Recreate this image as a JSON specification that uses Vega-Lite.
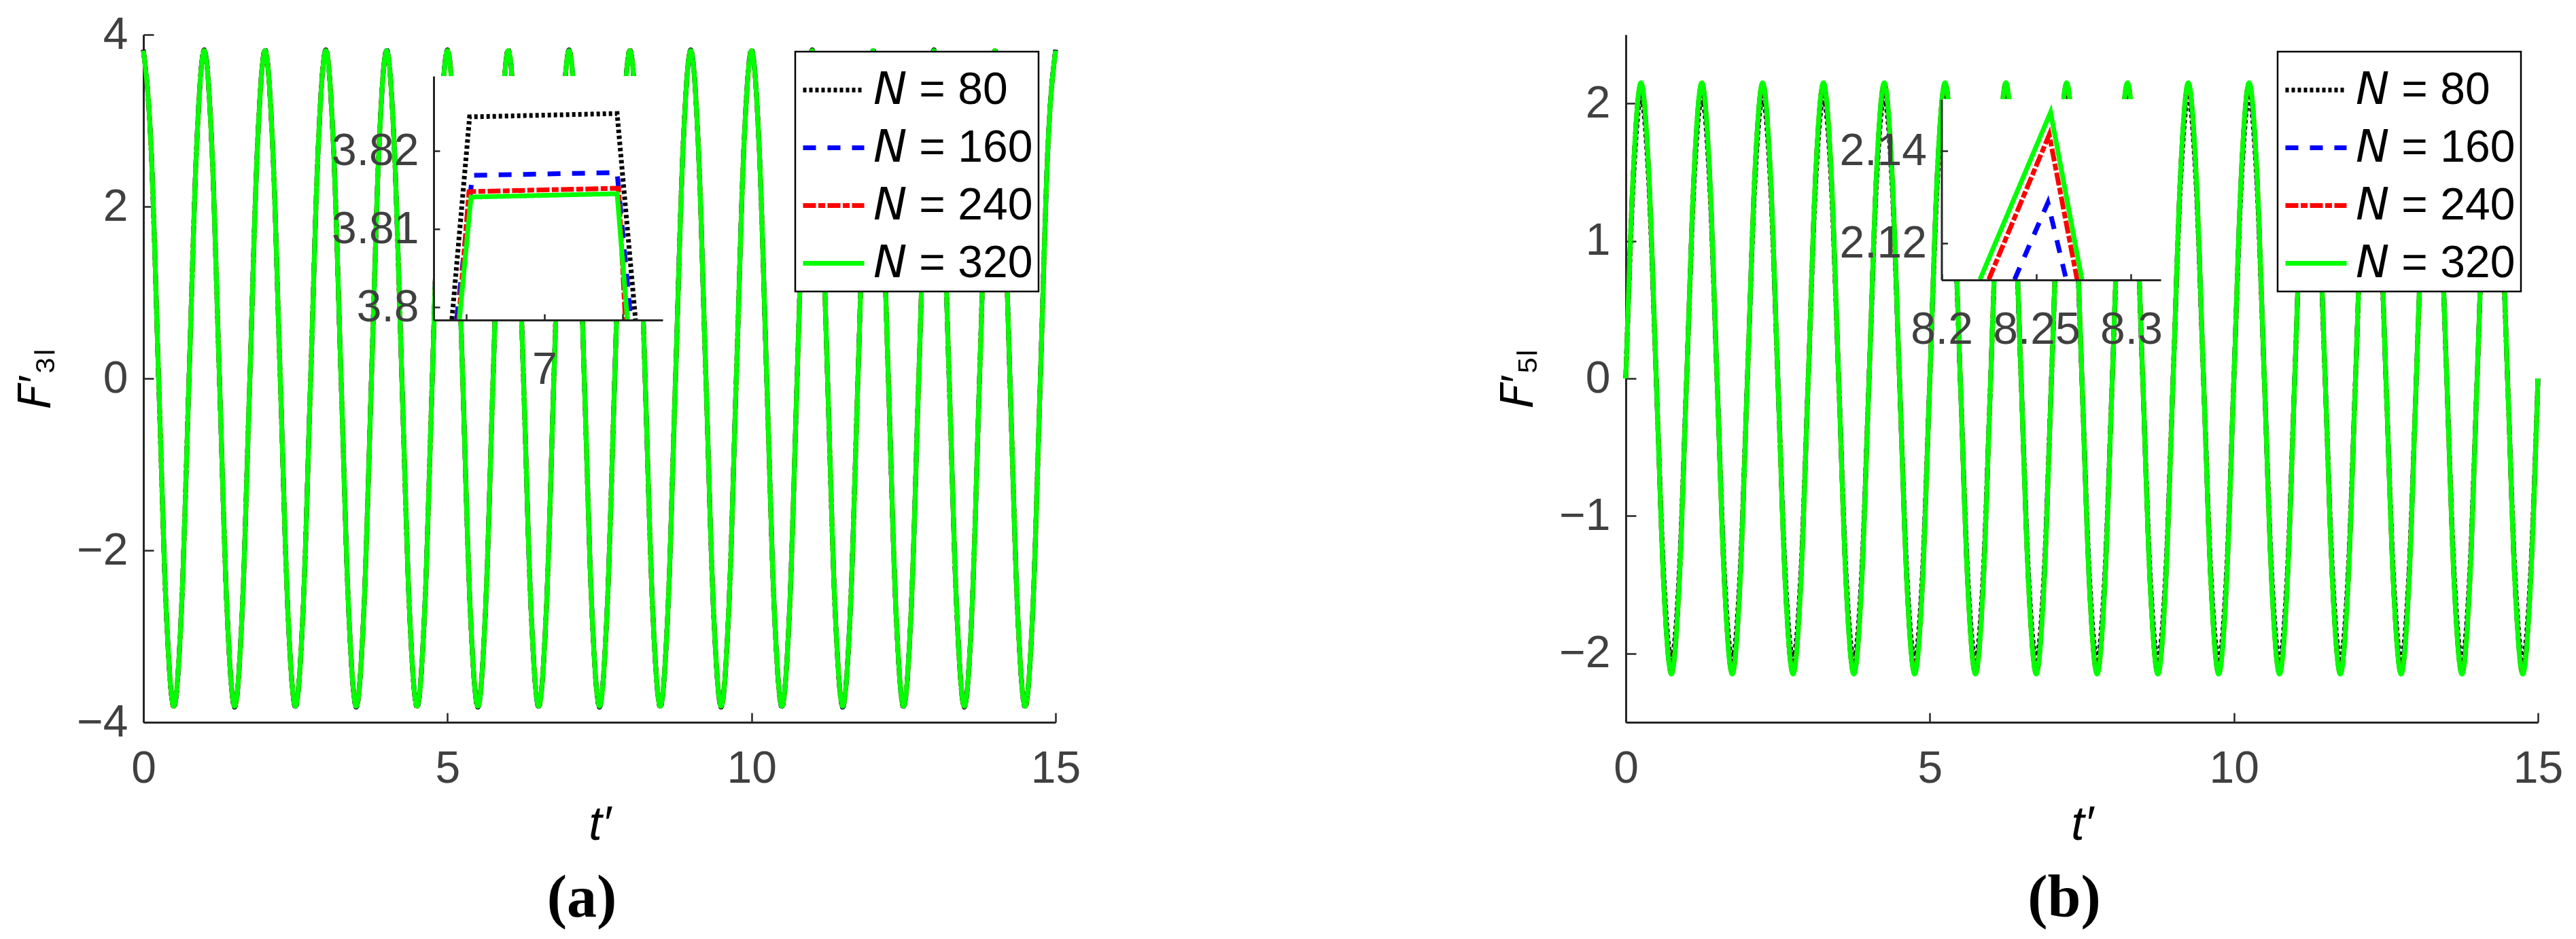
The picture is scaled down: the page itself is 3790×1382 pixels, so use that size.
{
  "$schema": "https://vega.github.io/schema/vega-lite/v6.json",
  "background": "white",
  "padding": {"left": 20, "top": 18, "right": 5, "bottom": 5},
  "config": {
    "font": "Liberation Sans",
    "view": {"stroke": null},
    "axis": {
      "labelFont": "Liberation Sans", "labelFontSize": 66, "labelColor": "#404040",
      "domainColor": "#262626", "domainWidth": 3, "tickColor": "#262626", "tickWidth": 2.5,
      "grid": false, "titleFont": "Liberation Sans", "titleFontSize": 66, "titleColor": "#000000",
      "titleFontWeight": "normal", "labelFlush": false, "labelOverlap": false
    },
    "legend": {
      "orient": "top-right", "offset": 25, "padding": 8, "strokeColor": "#000000", "strokeWidth": 2.5,
      "fillColor": "#ffffff", "symbolType": "stroke", "symbolSize": 8100, "symbolStrokeWidth": 7,
      "labelFontSize": 66, "labelFont": "Liberation Sans", "labelColor": "#000000", "labelOffset": 10,
      "rowPadding": 3, "labelLimit": 600, "zindex": 1
    },
    "line": {"strokeCap": "butt"}
  },
  "datasets": {
    "mainA": [
      {"t":0,"80":3.825,"160":3.817,"240":3.815,"320":3.814},{"t":0.125,"80":2.705,"160":2.699,"240":2.698,"320":2.697},{"t":0.25,"80":0,"160":0,"240":0,"320":0},{"t":0.375,"80":-2.705,"160":-2.699,"240":-2.698,"320":-2.697},{"t":0.5,"80":-3.825,"160":-3.817,"240":-3.815,"320":-3.814},{"t":0.625,"80":-2.705,"160":-2.699,"240":-2.698,"320":-2.697},{"t":0.75,"80":0,"160":0,"240":0,"320":0},{"t":0.875,"80":2.705,"160":2.699,"240":2.698,"320":2.697},
      {"t":1,"80":3.825,"160":3.817,"240":3.815,"320":3.814},{"t":1.125,"80":2.705,"160":2.699,"240":2.698,"320":2.697},{"t":1.25,"80":0,"160":0,"240":0,"320":0},{"t":1.375,"80":-2.705,"160":-2.699,"240":-2.698,"320":-2.697},{"t":1.5,"80":-3.825,"160":-3.817,"240":-3.815,"320":-3.814},{"t":1.625,"80":-2.705,"160":-2.699,"240":-2.698,"320":-2.697},{"t":1.75,"80":0,"160":0,"240":0,"320":0},{"t":1.875,"80":2.705,"160":2.699,"240":2.698,"320":2.697},
      {"t":2,"80":3.825,"160":3.817,"240":3.815,"320":3.814},{"t":2.125,"80":2.705,"160":2.699,"240":2.698,"320":2.697},{"t":2.25,"80":0,"160":0,"240":0,"320":0},{"t":2.375,"80":-2.705,"160":-2.699,"240":-2.698,"320":-2.697},{"t":2.5,"80":-3.825,"160":-3.817,"240":-3.815,"320":-3.814},{"t":2.625,"80":-2.705,"160":-2.699,"240":-2.698,"320":-2.697},{"t":2.75,"80":0,"160":0,"240":0,"320":0},{"t":2.875,"80":2.705,"160":2.699,"240":2.698,"320":2.697},
      {"t":3,"80":3.825,"160":3.817,"240":3.815,"320":3.814},{"t":3.125,"80":2.705,"160":2.699,"240":2.698,"320":2.697},{"t":3.25,"80":0,"160":0,"240":0,"320":0},{"t":3.375,"80":-2.705,"160":-2.699,"240":-2.698,"320":-2.697},{"t":3.5,"80":-3.825,"160":-3.817,"240":-3.815,"320":-3.814},{"t":3.625,"80":-2.705,"160":-2.699,"240":-2.698,"320":-2.697},{"t":3.75,"80":0,"160":0,"240":0,"320":0},{"t":3.875,"80":2.705,"160":2.699,"240":2.698,"320":2.697},
      {"t":4,"80":3.825,"160":3.817,"240":3.815,"320":3.814},{"t":4.125,"80":2.705,"160":2.699,"240":2.698,"320":2.697},{"t":4.25,"80":0,"160":0,"240":0,"320":0},{"t":4.375,"80":-2.705,"160":-2.699,"240":-2.698,"320":-2.697},{"t":4.5,"80":-3.825,"160":-3.817,"240":-3.815,"320":-3.814},{"t":4.625,"80":-2.705,"160":-2.699,"240":-2.698,"320":-2.697},{"t":4.75,"80":0,"160":0,"240":0,"320":0},{"t":4.875,"80":2.705,"160":2.699,"240":2.698,"320":2.697},
      {"t":5,"80":3.825,"160":3.817,"240":3.815,"320":3.814},{"t":5.125,"80":2.705,"160":2.699,"240":2.698,"320":2.697},{"t":5.25,"80":0,"160":0,"240":0,"320":0},{"t":5.375,"80":-2.705,"160":-2.699,"240":-2.698,"320":-2.697},{"t":5.5,"80":-3.825,"160":-3.817,"240":-3.815,"320":-3.814},{"t":5.625,"80":-2.705,"160":-2.699,"240":-2.698,"320":-2.697},{"t":5.75,"80":0,"160":0,"240":0,"320":0},{"t":5.875,"80":2.705,"160":2.699,"240":2.698,"320":2.697},
      {"t":6,"80":3.825,"160":3.817,"240":3.815,"320":3.814},{"t":6.125,"80":2.705,"160":2.699,"240":2.698,"320":2.697},{"t":6.25,"80":0,"160":0,"240":0,"320":0},{"t":6.375,"80":-2.705,"160":-2.699,"240":-2.698,"320":-2.697},{"t":6.5,"80":-3.825,"160":-3.817,"240":-3.815,"320":-3.814},{"t":6.625,"80":-2.705,"160":-2.699,"240":-2.698,"320":-2.697},{"t":6.75,"80":0,"160":0,"240":0,"320":0},{"t":6.875,"80":2.705,"160":2.699,"240":2.698,"320":2.697},
      {"t":7,"80":3.825,"160":3.817,"240":3.815,"320":3.814},{"t":7.125,"80":2.705,"160":2.699,"240":2.698,"320":2.697},{"t":7.25,"80":0,"160":0,"240":0,"320":0},{"t":7.375,"80":-2.705,"160":-2.699,"240":-2.698,"320":-2.697},{"t":7.5,"80":-3.825,"160":-3.817,"240":-3.815,"320":-3.814},{"t":7.625,"80":-2.705,"160":-2.699,"240":-2.698,"320":-2.697},{"t":7.75,"80":0,"160":0,"240":0,"320":0},{"t":7.875,"80":2.705,"160":2.699,"240":2.698,"320":2.697},
      {"t":8,"80":3.825,"160":3.817,"240":3.815,"320":3.814},{"t":8.125,"80":2.705,"160":2.699,"240":2.698,"320":2.697},{"t":8.25,"80":0,"160":0,"240":0,"320":0},{"t":8.375,"80":-2.705,"160":-2.699,"240":-2.698,"320":-2.697},{"t":8.5,"80":-3.825,"160":-3.817,"240":-3.815,"320":-3.814},{"t":8.625,"80":-2.705,"160":-2.699,"240":-2.698,"320":-2.697},{"t":8.75,"80":0,"160":0,"240":0,"320":0},{"t":8.875,"80":2.705,"160":2.699,"240":2.698,"320":2.697},
      {"t":9,"80":3.825,"160":3.817,"240":3.815,"320":3.814},{"t":9.125,"80":2.705,"160":2.699,"240":2.698,"320":2.697},{"t":9.25,"80":0,"160":0,"240":0,"320":0},{"t":9.375,"80":-2.705,"160":-2.699,"240":-2.698,"320":-2.697},{"t":9.5,"80":-3.825,"160":-3.817,"240":-3.815,"320":-3.814},{"t":9.625,"80":-2.705,"160":-2.699,"240":-2.698,"320":-2.697},{"t":9.75,"80":0,"160":0,"240":0,"320":0},{"t":9.875,"80":2.705,"160":2.699,"240":2.698,"320":2.697},
      {"t":10,"80":3.825,"160":3.817,"240":3.815,"320":3.814},{"t":10.125,"80":2.705,"160":2.699,"240":2.698,"320":2.697},{"t":10.25,"80":0,"160":0,"240":0,"320":0},{"t":10.375,"80":-2.705,"160":-2.699,"240":-2.698,"320":-2.697},{"t":10.5,"80":-3.825,"160":-3.817,"240":-3.815,"320":-3.814},{"t":10.625,"80":-2.705,"160":-2.699,"240":-2.698,"320":-2.697},{"t":10.75,"80":0,"160":0,"240":0,"320":0},{"t":10.875,"80":2.705,"160":2.699,"240":2.698,"320":2.697},
      {"t":11,"80":3.825,"160":3.817,"240":3.815,"320":3.814},{"t":11.125,"80":2.705,"160":2.699,"240":2.698,"320":2.697},{"t":11.25,"80":0,"160":0,"240":0,"320":0},{"t":11.375,"80":-2.705,"160":-2.699,"240":-2.698,"320":-2.697},{"t":11.5,"80":-3.825,"160":-3.817,"240":-3.815,"320":-3.814},{"t":11.625,"80":-2.705,"160":-2.699,"240":-2.698,"320":-2.697},{"t":11.75,"80":0,"160":0,"240":0,"320":0},{"t":11.875,"80":2.705,"160":2.699,"240":2.698,"320":2.697},
      {"t":12,"80":3.825,"160":3.817,"240":3.815,"320":3.814},{"t":12.125,"80":2.705,"160":2.699,"240":2.698,"320":2.697},{"t":12.25,"80":0,"160":0,"240":0,"320":0},{"t":12.375,"80":-2.705,"160":-2.699,"240":-2.698,"320":-2.697},{"t":12.5,"80":-3.825,"160":-3.817,"240":-3.815,"320":-3.814},{"t":12.625,"80":-2.705,"160":-2.699,"240":-2.698,"320":-2.697},{"t":12.75,"80":0,"160":0,"240":0,"320":0},{"t":12.875,"80":2.705,"160":2.699,"240":2.698,"320":2.697},
      {"t":13,"80":3.825,"160":3.817,"240":3.815,"320":3.814},{"t":13.125,"80":2.705,"160":2.699,"240":2.698,"320":2.697},{"t":13.25,"80":0,"160":0,"240":0,"320":0},{"t":13.375,"80":-2.705,"160":-2.699,"240":-2.698,"320":-2.697},{"t":13.5,"80":-3.825,"160":-3.817,"240":-3.815,"320":-3.814},{"t":13.625,"80":-2.705,"160":-2.699,"240":-2.698,"320":-2.697},{"t":13.75,"80":0,"160":0,"240":0,"320":0},{"t":13.875,"80":2.705,"160":2.699,"240":2.698,"320":2.697},
      {"t":14,"80":3.825,"160":3.817,"240":3.815,"320":3.814},{"t":14.125,"80":2.705,"160":2.699,"240":2.698,"320":2.697},{"t":14.25,"80":0,"160":0,"240":0,"320":0},{"t":14.375,"80":-2.705,"160":-2.699,"240":-2.698,"320":-2.697},{"t":14.5,"80":-3.825,"160":-3.817,"240":-3.815,"320":-3.814},{"t":14.625,"80":-2.705,"160":-2.699,"240":-2.698,"320":-2.697},{"t":14.75,"80":0,"160":0,"240":0,"320":0},{"t":14.875,"80":2.705,"160":2.699,"240":2.698,"320":2.697},
      {"t":15,"80":3.825,"160":3.817,"240":3.815,"320":3.814}
    ],
    "mainB": [
      {"t":0,"80":0,"160":0,"240":0,"320":0},{"t":0.125,"80":1.443,"160":1.506,"240":1.517,"320":1.52},{"t":0.25,"80":2.04,"160":2.13,"240":2.145,"320":2.15},{"t":0.375,"80":1.443,"160":1.506,"240":1.517,"320":1.52},{"t":0.5,"80":0,"160":0,"240":0,"320":0},{"t":0.625,"80":-1.443,"160":-1.506,"240":-1.517,"320":-1.52},{"t":0.75,"80":-2.04,"160":-2.13,"240":-2.145,"320":-2.15},{"t":0.875,"80":-1.443,"160":-1.506,"240":-1.517,"320":-1.52},
      {"t":1,"80":0,"160":0,"240":0,"320":0},{"t":1.125,"80":1.443,"160":1.506,"240":1.517,"320":1.52},{"t":1.25,"80":2.04,"160":2.13,"240":2.145,"320":2.15},{"t":1.375,"80":1.443,"160":1.506,"240":1.517,"320":1.52},{"t":1.5,"80":0,"160":0,"240":0,"320":0},{"t":1.625,"80":-1.443,"160":-1.506,"240":-1.517,"320":-1.52},{"t":1.75,"80":-2.04,"160":-2.13,"240":-2.145,"320":-2.15},{"t":1.875,"80":-1.443,"160":-1.506,"240":-1.517,"320":-1.52},
      {"t":2,"80":0,"160":0,"240":0,"320":0},{"t":2.125,"80":1.443,"160":1.506,"240":1.517,"320":1.52},{"t":2.25,"80":2.04,"160":2.13,"240":2.145,"320":2.15},{"t":2.375,"80":1.443,"160":1.506,"240":1.517,"320":1.52},{"t":2.5,"80":0,"160":0,"240":0,"320":0},{"t":2.625,"80":-1.443,"160":-1.506,"240":-1.517,"320":-1.52},{"t":2.75,"80":-2.04,"160":-2.13,"240":-2.145,"320":-2.15},{"t":2.875,"80":-1.443,"160":-1.506,"240":-1.517,"320":-1.52},
      {"t":3,"80":0,"160":0,"240":0,"320":0},{"t":3.125,"80":1.443,"160":1.506,"240":1.517,"320":1.52},{"t":3.25,"80":2.04,"160":2.13,"240":2.145,"320":2.15},{"t":3.375,"80":1.443,"160":1.506,"240":1.517,"320":1.52},{"t":3.5,"80":0,"160":0,"240":0,"320":0},{"t":3.625,"80":-1.443,"160":-1.506,"240":-1.517,"320":-1.52},{"t":3.75,"80":-2.04,"160":-2.13,"240":-2.145,"320":-2.15},{"t":3.875,"80":-1.443,"160":-1.506,"240":-1.517,"320":-1.52},
      {"t":4,"80":0,"160":0,"240":0,"320":0},{"t":4.125,"80":1.443,"160":1.506,"240":1.517,"320":1.52},{"t":4.25,"80":2.04,"160":2.13,"240":2.145,"320":2.15},{"t":4.375,"80":1.443,"160":1.506,"240":1.517,"320":1.52},{"t":4.5,"80":0,"160":0,"240":0,"320":0},{"t":4.625,"80":-1.443,"160":-1.506,"240":-1.517,"320":-1.52},{"t":4.75,"80":-2.04,"160":-2.13,"240":-2.145,"320":-2.15},{"t":4.875,"80":-1.443,"160":-1.506,"240":-1.517,"320":-1.52},
      {"t":5,"80":0,"160":0,"240":0,"320":0},{"t":5.125,"80":1.443,"160":1.506,"240":1.517,"320":1.52},{"t":5.25,"80":2.04,"160":2.13,"240":2.145,"320":2.15},{"t":5.375,"80":1.443,"160":1.506,"240":1.517,"320":1.52},{"t":5.5,"80":0,"160":0,"240":0,"320":0},{"t":5.625,"80":-1.443,"160":-1.506,"240":-1.517,"320":-1.52},{"t":5.75,"80":-2.04,"160":-2.13,"240":-2.145,"320":-2.15},{"t":5.875,"80":-1.443,"160":-1.506,"240":-1.517,"320":-1.52},
      {"t":6,"80":0,"160":0,"240":0,"320":0},{"t":6.125,"80":1.443,"160":1.506,"240":1.517,"320":1.52},{"t":6.25,"80":2.04,"160":2.13,"240":2.145,"320":2.15},{"t":6.375,"80":1.443,"160":1.506,"240":1.517,"320":1.52},{"t":6.5,"80":0,"160":0,"240":0,"320":0},{"t":6.625,"80":-1.443,"160":-1.506,"240":-1.517,"320":-1.52},{"t":6.75,"80":-2.04,"160":-2.13,"240":-2.145,"320":-2.15},{"t":6.875,"80":-1.443,"160":-1.506,"240":-1.517,"320":-1.52},
      {"t":7,"80":0,"160":0,"240":0,"320":0},{"t":7.125,"80":1.443,"160":1.506,"240":1.517,"320":1.52},{"t":7.25,"80":2.04,"160":2.13,"240":2.145,"320":2.15},{"t":7.375,"80":1.443,"160":1.506,"240":1.517,"320":1.52},{"t":7.5,"80":0,"160":0,"240":0,"320":0},{"t":7.625,"80":-1.443,"160":-1.506,"240":-1.517,"320":-1.52},{"t":7.75,"80":-2.04,"160":-2.13,"240":-2.145,"320":-2.15},{"t":7.875,"80":-1.443,"160":-1.506,"240":-1.517,"320":-1.52},
      {"t":8,"80":0,"160":0,"240":0,"320":0},{"t":8.125,"80":1.443,"160":1.506,"240":1.517,"320":1.52},{"t":8.25,"80":2.04,"160":2.13,"240":2.145,"320":2.15},{"t":8.375,"80":1.443,"160":1.506,"240":1.517,"320":1.52},{"t":8.5,"80":0,"160":0,"240":0,"320":0},{"t":8.625,"80":-1.443,"160":-1.506,"240":-1.517,"320":-1.52},{"t":8.75,"80":-2.04,"160":-2.13,"240":-2.145,"320":-2.15},{"t":8.875,"80":-1.443,"160":-1.506,"240":-1.517,"320":-1.52},
      {"t":9,"80":0,"160":0,"240":0,"320":0},{"t":9.125,"80":1.443,"160":1.506,"240":1.517,"320":1.52},{"t":9.25,"80":2.04,"160":2.13,"240":2.145,"320":2.15},{"t":9.375,"80":1.443,"160":1.506,"240":1.517,"320":1.52},{"t":9.5,"80":0,"160":0,"240":0,"320":0},{"t":9.625,"80":-1.443,"160":-1.506,"240":-1.517,"320":-1.52},{"t":9.75,"80":-2.04,"160":-2.13,"240":-2.145,"320":-2.15},{"t":9.875,"80":-1.443,"160":-1.506,"240":-1.517,"320":-1.52},
      {"t":10,"80":0,"160":0,"240":0,"320":0},{"t":10.125,"80":1.443,"160":1.506,"240":1.517,"320":1.52},{"t":10.25,"80":2.04,"160":2.13,"240":2.145,"320":2.15},{"t":10.375,"80":1.443,"160":1.506,"240":1.517,"320":1.52},{"t":10.5,"80":0,"160":0,"240":0,"320":0},{"t":10.625,"80":-1.443,"160":-1.506,"240":-1.517,"320":-1.52},{"t":10.75,"80":-2.04,"160":-2.13,"240":-2.145,"320":-2.15},{"t":10.875,"80":-1.443,"160":-1.506,"240":-1.517,"320":-1.52},
      {"t":11,"80":0,"160":0,"240":0,"320":0},{"t":11.125,"80":1.443,"160":1.506,"240":1.517,"320":1.52},{"t":11.25,"80":2.04,"160":2.13,"240":2.145,"320":2.15},{"t":11.375,"80":1.443,"160":1.506,"240":1.517,"320":1.52},{"t":11.5,"80":0,"160":0,"240":0,"320":0},{"t":11.625,"80":-1.443,"160":-1.506,"240":-1.517,"320":-1.52},{"t":11.75,"80":-2.04,"160":-2.13,"240":-2.145,"320":-2.15},{"t":11.875,"80":-1.443,"160":-1.506,"240":-1.517,"320":-1.52},
      {"t":12,"80":0,"160":0,"240":0,"320":0},{"t":12.125,"80":1.443,"160":1.506,"240":1.517,"320":1.52},{"t":12.25,"80":2.04,"160":2.13,"240":2.145,"320":2.15},{"t":12.375,"80":1.443,"160":1.506,"240":1.517,"320":1.52},{"t":12.5,"80":0,"160":0,"240":0,"320":0},{"t":12.625,"80":-1.443,"160":-1.506,"240":-1.517,"320":-1.52},{"t":12.75,"80":-2.04,"160":-2.13,"240":-2.145,"320":-2.15},{"t":12.875,"80":-1.443,"160":-1.506,"240":-1.517,"320":-1.52},
      {"t":13,"80":0,"160":0,"240":0,"320":0},{"t":13.125,"80":1.443,"160":1.506,"240":1.517,"320":1.52},{"t":13.25,"80":2.04,"160":2.13,"240":2.145,"320":2.15},{"t":13.375,"80":1.443,"160":1.506,"240":1.517,"320":1.52},{"t":13.5,"80":0,"160":0,"240":0,"320":0},{"t":13.625,"80":-1.443,"160":-1.506,"240":-1.517,"320":-1.52},{"t":13.75,"80":-2.04,"160":-2.13,"240":-2.145,"320":-2.15},{"t":13.875,"80":-1.443,"160":-1.506,"240":-1.517,"320":-1.52},
      {"t":14,"80":0,"160":0,"240":0,"320":0},{"t":14.125,"80":1.443,"160":1.506,"240":1.517,"320":1.52},{"t":14.25,"80":2.04,"160":2.13,"240":2.145,"320":2.15},{"t":14.375,"80":1.443,"160":1.506,"240":1.517,"320":1.52},{"t":14.5,"80":0,"160":0,"240":0,"320":0},{"t":14.625,"80":-1.443,"160":-1.506,"240":-1.517,"320":-1.52},{"t":14.75,"80":-2.04,"160":-2.13,"240":-2.145,"320":-2.15},{"t":14.875,"80":-1.443,"160":-1.506,"240":-1.517,"320":-1.52},
      {"t":15,"80":0,"160":0,"240":0,"320":0}
    ],
    "insetA": [
      {"N":"80","t":6.98817,"v":3.79843},{"N":"80","t":6.99043,"v":3.82435},{"N":"80","t":7.0093,"v":3.82478},{"N":"80","t":7.01165,"v":3.79843},
      {"N":"160","t":6.98878,"v":3.79843},{"N":"160","t":6.99078,"v":3.81687},{"N":"160","t":7.0093,"v":3.81722},{"N":"160","t":7.01104,"v":3.79843},
      {"N":"240","t":6.98904,"v":3.79843},{"N":"240","t":6.99035,"v":3.81478},{"N":"240","t":7.00948,"v":3.81522},{"N":"240","t":7.01035,"v":3.79843},
      {"N":"320","t":6.98913,"v":3.79843},{"N":"320","t":6.99061,"v":3.81409},{"N":"320","t":7.0093,"v":3.81452},{"N":"320","t":7.01061,"v":3.79843}
    ],
    "insetB": [
      {"N":"160","t":8.23853,"v":2.1122},{"N":"160","t":8.25609,"v":2.12882},{"N":"160","t":8.26577,"v":2.1122},
      {"N":"240","t":8.22491,"v":2.1122},{"N":"240","t":8.25681,"v":2.14353},{"N":"240","t":8.27151,"v":2.1122},
      {"N":"320","t":8.2203,"v":2.1122},{"N":"320","t":8.25753,"v":2.14838},{"N":"320","t":8.27401,"v":2.1122}
    ]
  },
  "bounds": "flush",
  "spacing": 839,
  "resolve": {"scale": {"color": "independent", "strokeDash": "independent"}},
  "hconcat": [
    {
      "width": 1342, "height": 1012,
      "title": {"text": "(a)", "orient": "bottom", "font": "Liberation Serif", "fontSize": 88, "fontWeight": "bold", "color": "#000000", "anchor": "middle", "frame": "group", "dx": -26, "offset": 30},
      "resolve": {"scale": {"x": "independent", "y": "independent"}, "axis": {"x": "independent", "y": "independent"}},
      "layer": [
        {
          "data": {"name": "mainA"},
          "transform": [{"fold": ["80", "160", "240", "320"], "as": ["N", "v"]}],
          "mark": {"type": "line", "interpolate": "monotone", "strokeWidth": 7},
          "encoding": {
            "x": {"field": "t", "type": "quantitative", "scale": {"domain": [0, 15], "nice": false, "zero": false},
                  "axis": {"orient": "bottom", "title": "t′", "titleFontStyle": "italic", "titleFontSize": 70, "values": [0, 5, 10, 15], "tickSize": -14, "labelPadding": 50, "titlePadding": 16}},
            "y": {"field": "v", "type": "quantitative", "scale": {"domain": [-4, 4], "nice": false, "zero": false},
                  "axis": {"orient": "left", "title": "𝘍′₃ₗ", "values": [-4, -2, 0, 2, 4], "tickSize": -15, "labelPadding": 38, "titlePadding": 25}},
            "color": {"field": "N", "type": "nominal", "scale": {"domain": ["80", "160", "240", "320"], "range": ["#000000", "#0000ff", "#ff0000", "#00ff00"]},
                      "legend": {"title": null, "labelExpr": "'𝘕 = ' + datum.label"}},
            "strokeDash": {"field": "N", "type": "nominal", "scale": {"domain": ["80", "160", "240", "320"], "range": [[5, 4], [19, 17], [19, 3.5, 10, 3.5], [1, 0]]},
                      "legend": {"title": null, "labelExpr": "'𝘕 = ' + datum.label"}}
          }
        },
        {
          "layer": [
            {
              "data": {"values": [{}]},
              "mark": {"type": "rect", "fill": "#ffffff"},
              "encoding": {
                "x": {"datum": 6.98583, "type": "quantitative", "title": null},
                "x2": {"datum": 7.01513},
                "y": {"datum": 3.79835, "type": "quantitative", "title": null},
                "y2": {"datum": 3.82957}
              }
            },
            {
              "data": {"name": "insetA"},
              "mark": {"type": "line", "strokeWidth": 7},
              "encoding": {
                "x": {"field": "t", "type": "quantitative", "title": null, "scale": {"domain": [6.98583, 7.01513], "range": [427, 764], "nice": false, "zero": false},
                      "axis": {"orient": "bottom", "offset": -592, "values": [6.99, 7, 7.01], "labelExpr": "datum.value == 7 ? '7' : ''", "tickSize": -9, "labelPadding": 50, "zindex": 1}},
                "y": {"field": "v", "type": "quantitative", "title": null, "scale": {"domain": [3.79835, 3.82957], "range": [420, 61], "nice": false, "zero": false},
                      "axis": {"orient": "left", "offset": -427, "values": [3.8, 3.81, 3.82], "format": ".3~g", "tickSize": -9, "labelPadding": 31, "zindex": 1}},
                "color": {"field": "N", "type": "nominal", "legend": null},
                "strokeDash": {"field": "N", "type": "nominal", "legend": null}
              }
            }
          ]
        }
      ]
    },
    {
      "width": 1342, "height": 1012,
      "title": {"text": "(b)", "orient": "bottom", "font": "Liberation Serif", "fontSize": 88, "fontWeight": "bold", "color": "#000000", "anchor": "middle", "frame": "group", "dx": -26, "offset": 30},
      "resolve": {"scale": {"x": "independent", "y": "independent"}, "axis": {"x": "independent", "y": "independent"}},
      "layer": [
        {
          "data": {"name": "mainB"},
          "transform": [{"fold": ["80", "160", "240", "320"], "as": ["N", "v"]}],
          "mark": {"type": "line", "interpolate": "monotone", "strokeWidth": 7},
          "encoding": {
            "x": {"field": "t", "type": "quantitative", "scale": {"domain": [0, 15], "nice": false, "zero": false},
                  "axis": {"orient": "bottom", "title": "t′", "titleFontStyle": "italic", "titleFontSize": 70, "values": [0, 5, 10, 15], "tickSize": -14, "labelPadding": 50, "titlePadding": 16}},
            "y": {"field": "v", "type": "quantitative", "scale": {"domain": [-2.5, 2.5], "nice": false, "zero": false},
                  "axis": {"orient": "left", "title": "𝘍′₅ₗ", "values": [-2, -1, 0, 1, 2], "tickSize": -15, "labelPadding": 38, "titlePadding": 25}},
            "color": {"field": "N", "type": "nominal", "scale": {"domain": ["80", "160", "240", "320"], "range": ["#000000", "#0000ff", "#ff0000", "#00ff00"]},
                      "legend": {"title": null, "labelExpr": "'𝘕 = ' + datum.label"}},
            "strokeDash": {"field": "N", "type": "nominal", "scale": {"domain": ["80", "160", "240", "320"], "range": [[5, 4], [19, 17], [19, 3.5, 10, 3.5], [1, 0]]},
                      "legend": {"title": null, "labelExpr": "'𝘕 = ' + datum.label"}}
          }
        },
        {
          "layer": [
            {
              "data": {"values": [{}]},
              "mark": {"type": "rect", "fill": "#ffffff"},
              "encoding": {
                "x": {"datum": 8.2, "type": "quantitative", "title": null},
                "x2": {"datum": 8.3156},
                "y": {"datum": 2.1121, "type": "quantitative", "title": null},
                "y2": {"datum": 2.1512}
              }
            },
            {
              "data": {"name": "insetB"},
              "mark": {"type": "line", "strokeWidth": 7},
              "encoding": {
                "x": {"field": "t", "type": "quantitative", "title": null, "scale": {"domain": [8.2, 8.3156], "range": [464.5, 787], "nice": false, "zero": false},
                      "axis": {"orient": "bottom", "offset": -651, "values": [8.2, 8.25, 8.3], "format": ".3~g", "tickSize": -9, "labelPadding": 50, "zindex": 1}},
                "y": {"field": "v", "type": "quantitative", "title": null, "scale": {"domain": [2.1121, 2.1512], "range": [361, 95], "nice": false, "zero": false},
                      "axis": {"orient": "left", "offset": -464.5, "values": [2.12, 2.14], "format": ".3~g", "tickSize": -9, "labelPadding": 31, "zindex": 1}},
                "color": {"field": "N", "type": "nominal", "legend": null},
                "strokeDash": {"field": "N", "type": "nominal", "legend": null}
              }
            }
          ]
        }
      ]
    }
  ]
}
